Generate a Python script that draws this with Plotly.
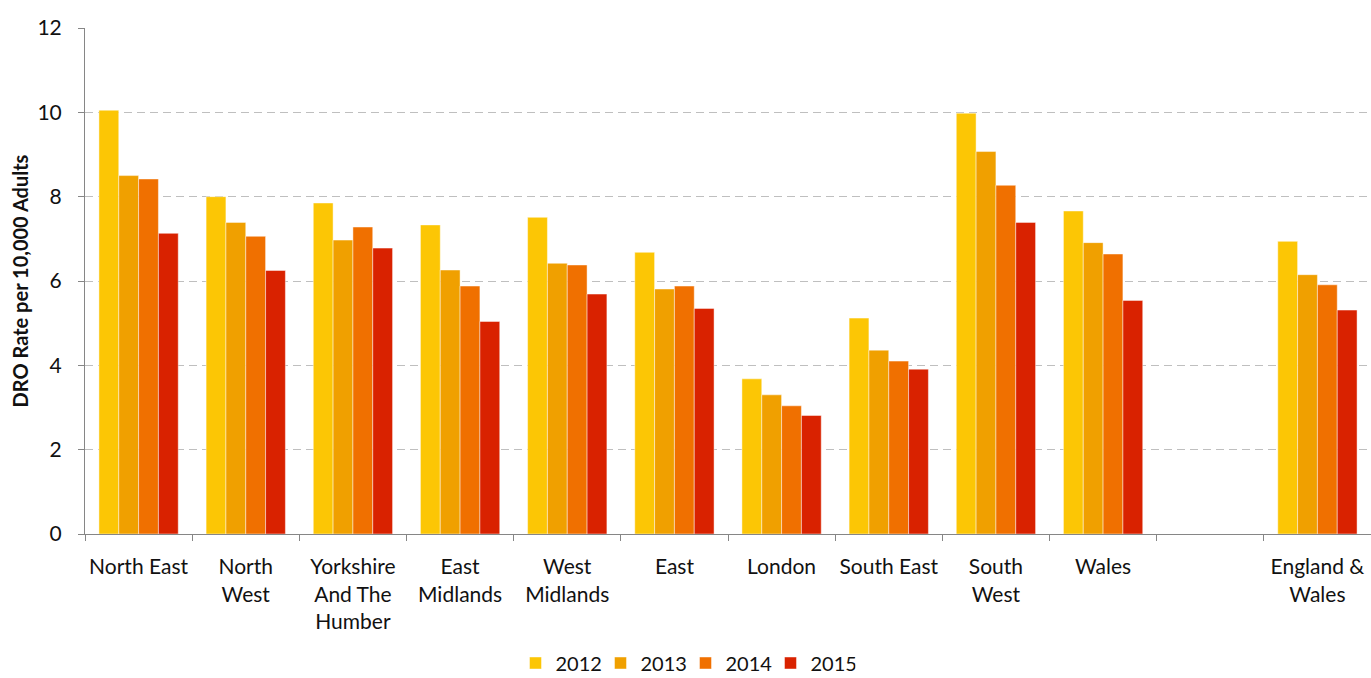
import plotly.graph_objects as go

# Regions (a blank slot separates Wales from the England & Wales total)
regions = ["North East", "North West", "Yorkshire And The Humber", "East Midlands",
           "West Midlands", "East", "London", "South East", "South West", "Wales",
           " ", "England & Wales"]
region_labels = ["North East", "North<br>West", "Yorkshire<br>And The<br>Humber",
                 "East<br>Midlands", "West<br>Midlands", "East", "London", "South East",
                 "South<br>West", "Wales", "", "England &<br>Wales"]

years = ["2012", "2013", "2014", "2015"]

# DRO rate per 10,000 adults
rate_2012 = [10.05, 8.00, 7.85, 7.33, 7.51, 6.68, 3.68, 5.12, 9.98, 7.66, None, 6.94]
rate_2013 = [8.50, 7.39, 6.97, 6.26, 6.42, 5.81, 3.30, 4.36, 9.07, 6.91, None, 6.15]
rate_2014 = [8.42, 7.06, 7.28, 5.88, 6.38, 5.88, 3.04, 4.10, 8.27, 6.64, None, 5.91]
rate_2015 = [7.13, 6.25, 6.78, 5.04, 5.69, 5.35, 2.81, 3.91, 7.39, 5.54, None, 5.31]

series = [rate_2012, rate_2013, rate_2014, rate_2015]
colors = ["#FCC605", "#F0A000", "#F07000", "#D92200"]

FONT = "Lato"
TEXT = "#111111"

fig = go.Figure()
for year, vals, col in zip(years, series, colors):
    fig.add_trace(go.Bar(
        name=year, x=regions, y=vals,
        marker=dict(color=col, line=dict(color="rgba(255,255,255,0.45)", width=1)),
    ))

fig.update_layout(
    barmode="group",
    bargap=0.26,
    bargroupgap=0,
    width=1371, height=678,
    margin=dict(l=85, r=0, t=28, b=144),
    plot_bgcolor="white",
    paper_bgcolor="white",
    font=dict(family=FONT, size=21, color=TEXT),
    legend=dict(orientation="h", xref="container", yref="container",
                x=0.5, xanchor="center", y=1 - 663 / 678, yanchor="middle",
                font=dict(family=FONT, size=20, color=TEXT),
                traceorder="normal", itemwidth=30,
                entrywidth=40, entrywidthmode="pixels"),
    xaxis=dict(
        type="category",
        tickmode="array", tickvals=regions, ticktext=region_labels,
        showgrid=False, automargin=False,
        showline=True, linecolor="#868686", linewidth=1,
        ticks="outside", tickson="boundaries", ticklen=6, tickcolor="#868686",
        tickfont=dict(family=FONT, size=21, color=TEXT),
        ticklabelstandoff=14,
        tickangle=0,
    ),
    yaxis=dict(
        range=[0, 12], dtick=2, tick0=0, automargin=False,
        showgrid=True, gridcolor="#BFBFBF", gridwidth=1, griddash="8px,5px",
        showline=True, linecolor="#868686", linewidth=1,
        ticks="outside", ticklen=6, tickcolor="#868686",
        tickfont=dict(family=FONT, size=21, color=TEXT),
        ticklabelstandoff=12,
        zeroline=False,
        title=dict(text="<b>DRO Rate per 10,000 Adults</b>",
                   font=dict(family=FONT, size=20, color=TEXT), standoff=3),
    ),
)

fig.write_html("out.html")
